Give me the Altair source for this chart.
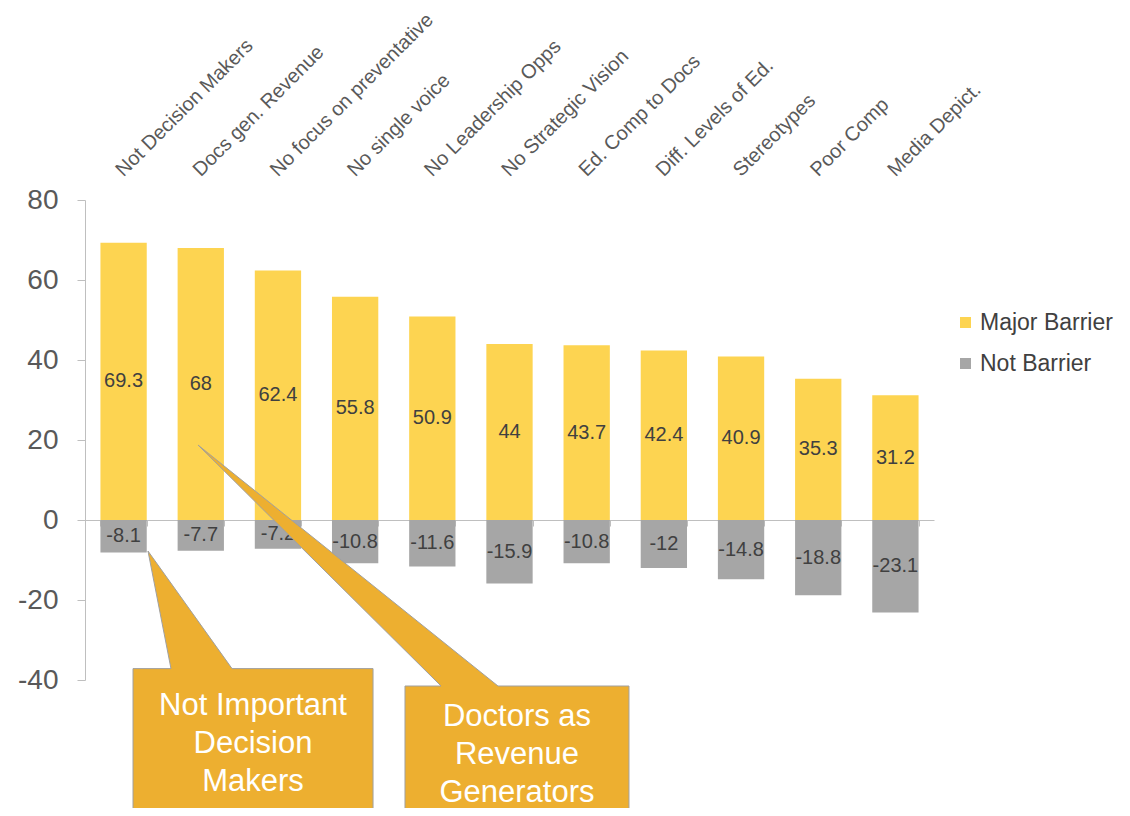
import altair as alt
import pandas as pd

FONT = "Liberation Sans, Arial, sans-serif"

# ---- chart data ----
categories = [
    "Not Decision Makers", "Docs gen. Revenue", "No focus on preventative",
    "No single voice", "No Leadership Opps", "No Strategic Vision",
    "Ed. Comp to Docs", "Diff. Levels of Ed.", "Stereotypes", "Poor Comp",
    "Media Depict.",
]
major_barrier = [69.3, 68, 62.4, 55.8, 50.9, 44, 43.7, 42.4, 40.9, 35.3, 31.2]
not_barrier = [-8.1, -7.7, -7.2, -10.8, -11.6, -15.9, -10.8, -12, -14.8, -18.8, -23.1]
series = ["Major Barrier", "Not Barrier"]
series_colors = ["#FDD451", "#A6A6A6"]
y_ticks = [-40, -20, 0, 20, 40, 60, 80]

# ---- callout annotations (x in category-slot units, y in value units) ----
callout_lines = [["Not Important", "Decision", "Makers"],
                 ["Doctors as", "Revenue", "Generators"]]
callout_text_u = [2.177, 5.597]
callout_text_v = [-46.5, -49.25]
callout1_u = [0.622, 1.114, 0.816, 1.905, 3.732, 3.732, 0.622, 0.622]
callout1_v = [-37.15, -37.15, -7.75, -37.15, -37.15, -74.5, -74.5, -37.15]
callout2_u = [4.146, 4.613, 1.464, 5.351, 7.048, 7.048, 4.146, 4.146]
callout2_v = [-41.5, -41.5, 18.75, -41.5, -41.5, -74.5, -74.5, -41.5]

rows = []
for c, m, n in zip(categories, major_barrier, not_barrier):
    rows.append({"category": c, "series": series[0], "value": m, "label": f"{m:g}"})
    rows.append({"category": c, "series": series[1], "value": n, "label": f"{n:g}"})
df = pd.DataFrame(rows)

poly_rows = []
for k, (us, vs) in enumerate([(callout1_u, callout1_v), (callout2_u, callout2_v)]):
    for i, (u, v) in enumerate(zip(us, vs)):
        poly_rows.append({"shape": f"c{k}", "i": i, "u": u, "v": v})
poly_df = pd.DataFrame(poly_rows)

text_df = pd.DataFrame({"lines": callout_lines, "u": callout_text_u, "v": callout_text_v})

xband = alt.Scale(domain=categories, paddingInner=0.4, paddingOuter=0.2)
yscale = alt.Scale(domain=[-40, 80], nice=False, zero=False)
uscale = alt.Scale(domain=[0, 11], nice=False, zero=False)

y_axis = alt.Axis(values=y_ticks, grid=False, tickSize=8,
                  tickColor="#BFBFBF", domainColor="#BFBFBF",
                  labelFont=FONT, labelFontSize=28, labelColor="#595959",
                  labelPadding=19, labelExpr="datum.value + ''", title=None)

bars = alt.Chart(df).mark_bar().encode(
    x=alt.X("category:N", sort=categories, scale=xband, title=None,
            axis=alt.Axis(orient="top", labelAngle=-45, labelAlign="left",
                          labelBaseline="alphabetic", labelPadding=23,
                          ticks=False, tickSize=0, domain=False, labelLimit=0,
                          labelFont=FONT, labelFontSize=20, labelColor="#595959")),
    y=alt.Y("value:Q", scale=yscale, stack=None, title=None, axis=y_axis),
    color=alt.Color("series:N", scale=alt.Scale(domain=series, range=series_colors),
                    legend=alt.Legend(title=None, orient="none", legendX=869, legendY=111,
                                      labelFont=FONT, labelFontSize=23, labelColor="#404040",
                                      symbolType="square", symbolSize=121,
                                      symbolStrokeWidth=0, labelOffset=3,
                                      rowPadding=17, padding=0)),
)

values = alt.Chart(df).transform_calculate(mid="datum.value / 2").mark_text(
    font=FONT, fontSize=20, color="#404040"
).encode(
    x=alt.X("category:N", sort=categories, scale=xband, title=None,
            axis=alt.Axis(orient="bottom", offset=-160, labels=False, tickBand="extent",
                          tickSize=6, tickColor="#BFBFBF", domainColor="#BFBFBF",
                          grid=False)),
    y=alt.Y("mid:Q", scale=yscale, title=None, axis=y_axis),
    text="label:N",
)

shapes = alt.Chart(poly_df).mark_line(
    fill="#EDAF30", stroke="#A0A0A0", strokeWidth=1, interpolate="linear"
).encode(
    x=alt.X("u:Q", scale=uscale, axis=None),
    y=alt.Y("v:Q", scale=yscale, title=None, axis=y_axis),
    detail="shape:N",
    order="i:Q",
)

callout_text = alt.Chart(text_df).mark_text(
    font=FONT, fontSize=31, color="white", lineHeight=38,
    align="center", baseline="middle"
).encode(
    x=alt.X("u:Q", scale=uscale, axis=None),
    y=alt.Y("v:Q", scale=yscale, title=None, axis=y_axis),
    text="lines",
)

chart = alt.layer(bars, values, shapes, callout_text).resolve_scale(
    x="independent"
).properties(
    width=849, height=480,
    autosize=alt.AutoSizeParams(type="none"),
    padding={"left": 77, "top": 192, "right": 188, "bottom": 128},
    background="white",
).configure_view(stroke=None)

chart.save("out.html", embed_options={"renderer": "svg", "actions": False})
